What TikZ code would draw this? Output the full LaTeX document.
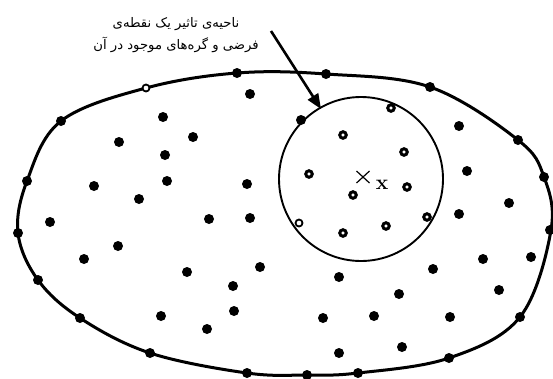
\documentclass[tikz,border=0pt]{standalone}
\usepackage{fontspec}
\usetikzlibrary{arrows.meta}
\newfontfamily\arabicfont[Script=Arabic]{DejaVu Sans}
\TeXXeTstate=1
\begin{document}
\begin{tikzpicture}[x=1pt,y=-1pt,
  dot/.style={circle,fill=black,inner sep=0pt,minimum size=10pt},
  ring/.style={circle,draw=black,fill=white,line width=3pt,inner sep=0pt,minimum size=6.5pt},
  thinring/.style={circle,draw=black,fill=white,line width=1.8pt,inner sep=0pt,minimum size=7pt},
  boundary/.style={line width=3pt},
  region/.style={line width=1.9pt},
  pointer/.style={line width=2.6pt,-{Triangle[length=15pt,width=12pt]}},
  label/.style={font=\arabicfont\fontsize{13.2}{16}\selectfont,align=center,inner sep=0pt}
]
\useasboundingbox (0,0) rectangle (553,378);
% outer boundary
\draw[boundary] plot[smooth cycle,tension=0.6] coordinates {
 (146,88) (237,73) (326,74) (430,87) (518,140) (544,177) (551,230)
 (520,317) (449,358) (358,373) (307,375) (247,373) (150,353) (80,318)
 (38,280) (18,233) (27,181) (61,121)};
% region circle
\node[circle,draw,region,minimum size=164pt,inner sep=0pt] (zone) at (361,179) {};
% boundary dots
\foreach \x/\y [count=\i] in {237/73,326/74,430/87,518/140,544/177,550/230,
  520/317,449/358,358/373,307/375,247/373,150/353,80/318,38/280,18/233,27/181,61/121}
  \node[dot] (b\i) at (\x,\y) {};
\node[thinring] (b0) at (146,88) {};
% interior dots
\foreach \x/\y [count=\i] in {250/94,163/117,193/137,119/142,165/155,167/181,94/186,
  139/199,247/184,50/222,209/219,250/218,118/246,84/259,187/272,260/267,233/286,
  234/311,161/316,207/329,
  459/126,467/171,509/203,459/214,483/259,531/257,433/269,339/277,499/290,399/294,
  323/318,374/316,450/317,339/353,402/347}
  \node[dot] (p\i) at (\x,\y) {};
% dot on circle
\node[dot] (c0) at (301,120) {};
% rings inside circle
\foreach \x/\y [count=\i] in {391/108,343/135,404/152,309/174,407/187,353/195,
  427/217,343/233,386/226}
  \node[ring] (r\i) at (\x,\y) {};
\node[thinring] (r0) at (299,223) {};
% point x
\coordinate (px) at (363,177);
\draw[line width=1.2pt] ([shift={(-6.5,-6)}]px) -- ([shift={(6.5,6)}]px)
  ([shift={(-6.5,6)}]px) -- ([shift={(6.5,-6)}]px);
\node[font=\bfseries\fontsize{21}{21}\selectfont,inner sep=0pt] (xl) at (382,185) {x};
% label and pointer
\node[label] (txt) at (176,35) {\beginR ناحیه‌ی تاثیر یک نقطه‌ی\endR\\[6pt]\beginR فرضی و گره‌های موجود در آن\endR};
\coordinate (ps) at (271,31);
\coordinate (pe) at (321,109);
\draw[pointer] (ps) -- (pe);
\end{tikzpicture}
\end{document}
